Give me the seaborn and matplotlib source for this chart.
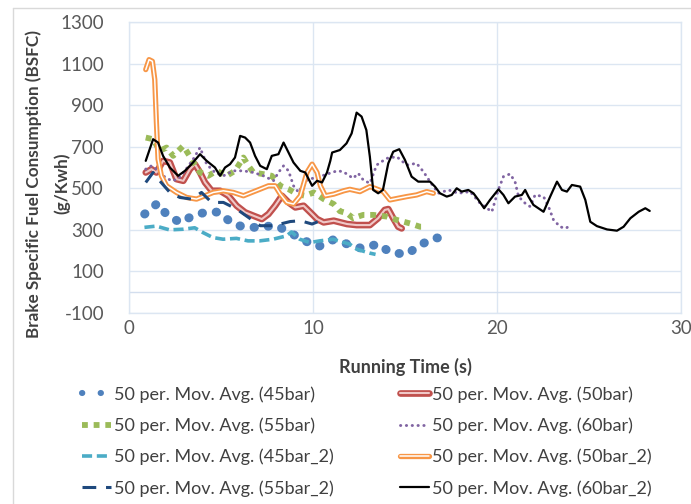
import matplotlib
matplotlib.use("Agg")
import matplotlib.pyplot as plt
import matplotlib.patheffects as pe
from matplotlib.lines import Line2D
import seaborn as sns
import pandas as pd

# ---- data: 50-period moving averages of BSFC (g/kWh) vs running time (s) ----
t_45 = [0.85, 1.55, 2.06, 2.79, 3.47, 4.25, 4.9, 5.6, 6.3, 7.2, 7.95, 8.77, 9.46,
        10.28, 11.09, 11.82, 12.64, 13.55, 14.18, 15.09, 15.81, 16.63, 17.49]
bsfc_45 = [376, 428, 372, 335, 368, 387, 385, 331, 312, 312, 323, 286, 251,
           219, 252, 233, 211, 232, 192, 182, 227, 262, 256]

t_50 = [0.91, 1.22, 1.49, 1.85, 2.22, 2.58, 2.95, 3.31, 3.58, 3.86, 4.13, 4.49, 4.95,
        5.4, 5.85, 6.31, 6.76, 7.22, 7.58, 7.94, 8.31, 8.67, 9.04, 9.49, 9.86, 10.22,
        10.58, 11.13, 11.85, 12.37, 13.09, 13.54, 13.9, 14.09, 14.36, 14.63, 14.82]
bsfc_50 = [576, 592, 576, 632, 624, 544, 536, 592, 616, 576, 528, 488, 488,
           464, 416, 384, 368, 352, 376, 416, 464, 432, 408, 416, 384, 352,
           336, 344, 328, 323, 323, 356, 396, 400, 356, 315, 307]

t_55 = [0.91, 1.31, 1.67, 2.04, 2.4, 2.95, 3.4, 3.86, 4.31, 4.76, 5.31, 5.76, 6.22,
        6.49, 6.76, 7.31, 7.76, 8.22, 8.67, 9.13, 9.58, 10.04, 10.58, 11.13, 11.46,
        11.85, 12.18, 12.73, 13.27, 14.0, 14.55, 15.27, 15.82, 16.18]
bsfc_55 = [744, 736, 680, 696, 656, 704, 640, 576, 560, 584, 560, 584, 648,
           608, 576, 568, 560, 512, 496, 472, 464, 480, 448, 424, 390,
           380, 356, 372, 372, 364, 348, 331, 315, 315]

t_60 = [0.91, 1.22, 1.49, 1.85, 2.31, 2.67, 3.04, 3.49, 3.86, 4.22, 4.67, 5.13, 5.67,
        6.22, 6.76, 7.31, 7.85, 8.12, 8.4, 8.67, 8.94, 9.22, 9.49, 9.76, 10.22, 10.76,
        11.31, 11.64, 12.18, 12.46, 12.73, 13.09, 13.46, 14.0, 14.55, 15.09, 15.63,
        16.0, 16.36, 16.81, 17.36, 17.9, 18.54, 19.08, 19.72, 20.08, 20.35, 20.71,
        20.98, 21.17, 21.53, 21.8, 22.07, 22.53, 22.8, 23.07, 23.43, 23.71, 24.07]
bsfc_60 = [592, 608, 592, 560, 536, 544, 584, 640, 696, 616, 576, 560, 584,
           584, 576, 560, 536, 576, 608, 584, 512, 480, 528, 544, 552, 568,
           584, 580, 548, 572, 540, 524, 612, 644, 652, 612, 620,
           580, 532, 476, 492, 476, 484, 428, 387, 495, 556, 569,
           532, 460, 428, 412, 468, 460, 412, 348, 315, 307, 323]

t_45b = [0.84, 1.48, 2.2, 2.93, 3.57, 4.02, 4.56, 5.11, 5.84, 6.47, 7.1, 7.83, 8.56,
         8.83, 9.28, 9.83, 10.37, 11.09, 12.0, 12.37, 13.09, 13.4]
bsfc_45b = [312, 318, 300, 303, 310, 287, 263, 255, 259, 247, 247, 255, 271,
            290, 255, 239, 247, 255, 231, 207, 188, 182]

t_50b = [0.91, 1.09, 1.27, 1.4, 1.49, 1.58, 1.76, 2.04, 2.58, 3.13, 3.67, 4.13, 4.58,
         5.13, 5.67, 6.22, 6.67, 7.13, 7.58, 7.94, 8.22, 8.58, 8.94, 9.31, 9.67, 9.95,
         10.22, 10.4, 10.67, 11.13, 11.67, 12.0, 12.55, 13.09, 13.36, 13.82, 14.18,
         14.63, 15.09, 15.63, 16.18, 16.54]
bsfc_50b = [1071, 1119, 1111, 1023, 816, 640, 560, 512, 480, 456, 448, 464, 480,
            488, 480, 464, 480, 496, 512, 512, 472, 432, 424, 464, 576, 616,
            576, 512, 464, 472, 488, 495, 484, 508, 500, 484, 444,
            452, 460, 468, 484, 476]

t_55b = [0.91, 1.31, 1.67, 2.22, 2.76, 3.4, 3.94, 4.49, 5.13, 5.85, 6.49, 7.13, 7.85,
         8.76, 9.31, 9.95, 10.4]
bsfc_55b = [528, 576, 536, 480, 456, 448, 480, 432, 432, 400, 360, 320, 320,
            340, 344, 328, 344]

t_60b = [0.91, 1.31, 1.58, 1.85, 2.22, 2.67, 3.04, 3.4, 3.86, 4.22, 4.67, 4.95, 5.22,
         5.49, 5.76, 6.04, 6.31, 6.58, 6.85, 7.13, 7.49, 7.76, 8.12, 8.4, 8.67, 8.94,
         9.31, 9.58, 9.95, 10.22, 10.49, 10.76, 10.94, 11.04, 11.46, 11.82, 12.1,
         12.37, 12.64, 12.9, 13.09, 13.27, 13.54, 13.8, 14.09, 14.36, 14.69, 15.0,
         15.36, 15.72, 16.09, 16.36, 16.63, 16.9, 17.27, 17.54, 17.81, 18.08, 18.44,
         18.72, 18.99, 19.3, 19.62, 20.08, 20.35, 20.62, 20.98, 21.35, 21.53, 21.71,
         21.98, 22.53, 22.89, 23.26, 23.53, 23.8, 24.07, 24.52, 24.8, 25.07, 25.43,
         25.98, 26.52, 26.88, 27.25, 27.7, 28.06, 28.3]
bsfc_60b = [632, 736, 720, 656, 600, 560, 584, 616, 664, 632, 600, 560, 600,
            616, 648, 752, 744, 720, 656, 608, 592, 656, 664, 720, 672, 624,
            584, 576, 512, 536, 528, 576, 632, 672, 684, 716, 764,
            864, 845, 780, 652, 492, 476, 492, 620, 676, 688, 636,
            556, 532, 532, 532, 508, 476, 460, 468, 500, 484, 492,
            476, 444, 404, 444, 495, 468, 428, 460, 468, 492, 460,
            420, 387, 460, 532, 492, 484, 516, 508, 444, 339, 318,
            302, 296, 315, 356, 387, 404, 391]

labels = ["50 per. Mov. Avg. (45bar)", "50 per. Mov. Avg. (50bar)",
          "50 per. Mov. Avg. (55bar)", "50 per. Mov. Avg. (60bar)",
          "50 per. Mov. Avg. (45bar_2)", "50 per. Mov. Avg. (50bar_2)",
          "50 per. Mov. Avg. (55bar_2)", "50 per. Mov. Avg. (60bar_2)"]

x_ticks = [0, 10, 20, 30]
y_ticks = [-100, 100, 300, 500, 700, 900, 1100, 1300]

# ---- styling ----
sns.set_theme(style="white")
plt.rcParams["font.family"] = ["Lato", "DejaVu Sans"]
plt.rcParams["axes.unicode_minus"] = False
TXT = "#404040"
GRID = "#DCE6F2"

fig = plt.figure(figsize=(6.91, 5.04), dpi=100)
W, H = 691, 504
ax = fig.add_axes([129 / W, 1 - 313 / H, (681 - 129) / W, (313 - 22) / H])

series = [
    (t_45, bsfc_45, dict(color="#4F81BD", lw=6.4, linestyle=(0, (0.05, 1.55)),
                         dash_capstyle="round")),
    (t_50, bsfc_50, dict(color="#F0C8C7", lw=1.5,
                         path_effects=[pe.Stroke(linewidth=4.8, foreground="#C0504D"),
                                       pe.Normal()])),
    (t_55, bsfc_55, dict(color="#9BBB59", lw=4.2, linestyle=(0, (1, 1)),
                         dash_capstyle="butt")),
    (t_60, bsfc_60, dict(color="#8064A2", lw=2.1, linestyle=(0, (0.1, 1.9)),
                         dash_capstyle="round")),
    (t_45b, bsfc_45b, dict(color="#4BACC6", lw=2.6, linestyle=(0, (2.8, 1.3)),
                           dash_capstyle="butt")),
    (t_50b, bsfc_50b, dict(color="#FFFFFF", lw=1.1,
                           path_effects=[pe.Stroke(linewidth=3.8, foreground="#F79646"),
                                         pe.Normal()])),
    (t_55b, bsfc_55b, dict(color="#1F497D", lw=2.2, linestyle=(0, (4.5, 3.2)),
                           dash_capstyle="butt")),
    (t_60b, bsfc_60b, dict(color="#000000", lw=1.6)),
]

for (t, v, kw), lab in zip(series, labels):
    df = pd.DataFrame({"t": t, "bsfc": v})
    sns.lineplot(data=df, x="t", y="bsfc", ax=ax, label=lab, sort=False,
                 estimator=None, **kw)

# ---- axes ----
ax.set_xlim(0, 30)
ax.set_ylim(-100, 1300)
ax.set_xticks(x_ticks)
ax.set_yticks(y_ticks)
ax.grid(True, color=GRID, lw=1.0)
ax.axhline(0, color="#D3DEEE", lw=1.0, zorder=1)
for s in ax.spines.values():
    s.set_color(GRID)
    s.set_linewidth(1.0)
ax.tick_params(axis="both", length=0, labelsize=13.5, colors="#595959")
ax.tick_params(axis="y", pad=18)
ax.tick_params(axis="x", pad=5)

ax.set_xlabel("Running Time (s)", fontsize=13, fontweight="bold", color=TXT,
              labelpad=15)

# two-line y title: first line as the axis label, unit line beside it
ax.set_ylabel("Brake Specific Fuel Consumption (BSFC)", fontsize=12.3,
              fontweight="bold", color=TXT)
ax.yaxis.label.set_verticalalignment("center")
ax.yaxis.set_label_coords(-0.172, 0.445)
ax.text(-0.122, 0.445, "(g/Kwh)", transform=ax.transAxes, rotation=90,
        rotation_mode="anchor", ha="center", va="center", fontsize=12.3,
        fontweight="bold", color=TXT)

# ---- legend, row-major order in two columns ----
handles, labs = ax.get_legend_handles_labels()
ax.get_legend().remove()
# the dotted 45bar key is drawn with smaller, wider-spaced dots
handles[0] = Line2D([], [], color="#4F81BD", lw=4.4, linestyle=(0, (0.05, 3.0)),
                    dash_capstyle="round")
order = [0, 2, 4, 6, 1, 3, 5, 7]
fig.legend([handles[i] for i in order], [labs[i] for i in order],
           loc="upper left", bbox_to_anchor=(82 / W, 1 - 386 / H), ncol=2,
           frameon=False, fontsize=13, labelcolor=TXT, handlelength=1.6,
           handletextpad=0.15, columnspacing=3.7, labelspacing=0.82,
           borderpad=0, borderaxespad=0)

# ---- light chart border (left and top edges) ----
fig.add_artist(Line2D([12.5 / W, 12.5 / W], [0, 1 - 7.5 / H],
                      color="#D9D9D9", lw=1.0, transform=fig.transFigure))
fig.add_artist(Line2D([12.5 / W, 1], [1 - 7.5 / H, 1 - 7.5 / H],
                      color="#D9D9D9", lw=1.0, transform=fig.transFigure))

fig.savefig("out.png", dpi=100)
